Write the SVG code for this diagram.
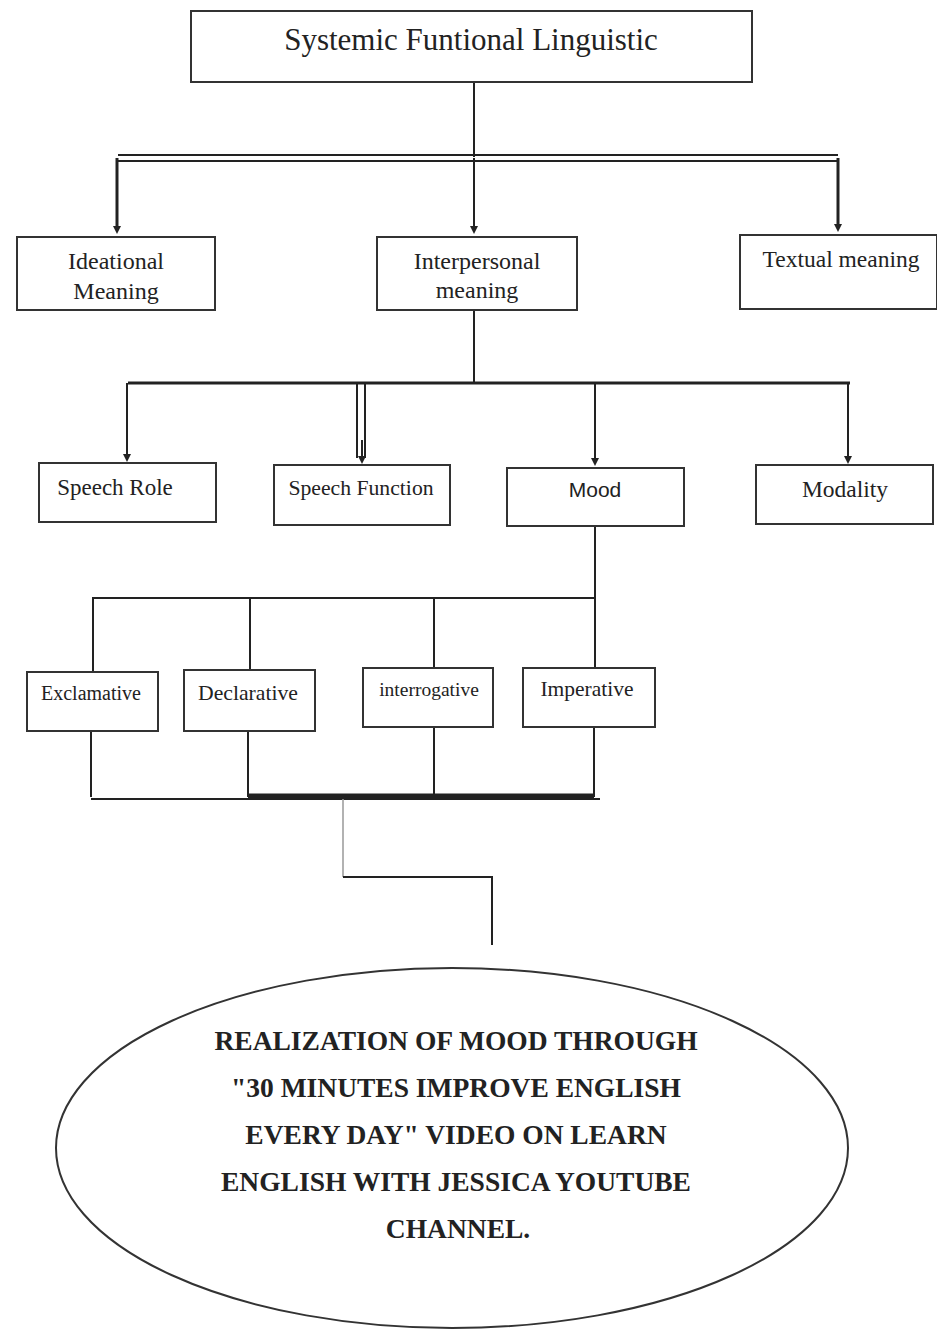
<svg xmlns="http://www.w3.org/2000/svg" width="937" height="1330" viewBox="0 0 937 1330">
<style>
.box{fill:#fff;stroke:#333;stroke-width:2}
.t{font-family:"Liberation Serif",serif;fill:#222;text-anchor:middle}
.c{stroke:#222;stroke-width:2;fill:none}
.ct{stroke:#222;stroke-width:3;fill:none}
.b{font-family:"Liberation Serif",serif;font-weight:bold;fill:#222;text-anchor:middle;font-size:27.5px}
</style>
<defs>
<marker id="ah" markerWidth="8" markerHeight="8" refX="4" refY="4" orient="auto" markerUnits="userSpaceOnUse"><path d="M0,0 L8,4 L0,8 z" fill="#222"/></marker>
</defs>
<rect width="937" height="1330" fill="#fff"/>
<g id="connectors">
<line class="c" x1="474" y1="82" x2="474" y2="157"/>
<line class="c" x1="118" y1="155" x2="838" y2="155"/>
<line class="c" x1="118" y1="161" x2="838" y2="161"/>
<line class="ct" x1="117" y1="158" x2="117" y2="230" marker-end="url(#ah)"/>
<line class="c" x1="474" y1="158" x2="474" y2="230" marker-end="url(#ah)"/>
<line class="ct" x1="838" y1="158" x2="838" y2="228" marker-end="url(#ah)"/>
<line class="c" x1="474" y1="310" x2="474" y2="383"/>
<line class="ct" x1="128" y1="383" x2="850" y2="383"/>
<line class="c" x1="127" y1="383" x2="127" y2="458" marker-end="url(#ah)"/>
<line class="c" x1="357" y1="383" x2="357" y2="458"/>
<line class="c" x1="365" y1="383" x2="365" y2="458"/>
<line class="c" x1="362" y1="440" x2="362" y2="460" marker-end="url(#ah)"/>
<line class="c" x1="595" y1="383" x2="595" y2="462" marker-end="url(#ah)"/>
<line class="c" x1="848" y1="383" x2="848" y2="460" marker-end="url(#ah)"/>
<path class="c" d="M595,526 V598 H93 V672"/>
<line class="c" x1="250" y1="598" x2="250" y2="670"/>
<line class="c" x1="434" y1="598" x2="434" y2="668"/>
<line class="c" x1="595" y1="598" x2="595" y2="668"/>
<line class="c" x1="91" y1="731" x2="91" y2="797"/>
<line class="c" x1="248" y1="731" x2="248" y2="797"/>
<line class="c" x1="434" y1="727" x2="434" y2="797"/>
<line class="c" x1="594" y1="727" x2="594" y2="797"/>
<line class="c" x1="91" y1="799" x2="600" y2="799"/>
<line stroke="#222" stroke-width="5" x1="248" y1="796" x2="594" y2="796"/>
<line stroke="#999" stroke-width="1.5" x1="343" y1="799" x2="343" y2="877"/>
<path class="c" d="M343,877 H492 V945"/>
</g>
<g id="n-sfl"><rect class="box" x="191" y="11" width="561" height="71"/><text class="t" x="471" y="50" font-size="31">Systemic Funtional Linguistic</text></g>
<g id="n-ideational"><rect class="box" x="17" y="237" width="198" height="73"/><text class="t" x="116" y="269" font-size="24">Ideational</text><text class="t" x="116" y="299" font-size="24">Meaning</text></g>
<g id="n-interpersonal"><rect class="box" x="377" y="237" width="200" height="73"/><text class="t" x="477" y="269" font-size="24">Interpersonal</text><text class="t" x="477" y="298" font-size="24">meaning</text></g>
<g id="n-textual"><rect class="box" x="740" y="235" width="197" height="74"/><text class="t" x="841" y="267" font-size="23.5">Textual meaning</text></g>
<g id="n-speechrole"><rect class="box" x="39" y="463" width="177" height="59"/><text class="t" x="115" y="495" font-size="23">Speech Role</text></g>
<g id="n-speechfunction"><rect class="box" x="274" y="465" width="176" height="60"/><text class="t" x="361" y="495" font-size="21.7">Speech Function</text></g>
<g id="n-mood"><rect class="box" x="507" y="468" width="177" height="58"/><text x="595" y="497" font-size="21" font-family="Liberation Sans,sans-serif" fill="#222" text-anchor="middle">Mood</text></g>
<g id="n-modality"><rect class="box" x="756" y="465" width="177" height="59"/><text class="t" x="845" y="497" font-size="23.5">Modality</text></g>
<g id="n-exclamative"><rect class="box" x="27" y="672" width="131" height="59"/><text class="t" x="91" y="700" font-size="20">Exclamative</text></g>
<g id="n-declarative"><rect class="box" x="184" y="670" width="131" height="61"/><text class="t" x="248" y="700" font-size="21.7">Declarative</text></g>
<g id="n-interrogative"><rect class="box" x="363" y="668" width="130" height="59"/><text class="t" x="429" y="696" font-size="19.5">interrogative</text></g>
<g id="n-imperative"><rect class="box" x="523" y="668" width="132" height="59"/><text class="t" x="587" y="696" font-size="21.5">Imperative</text></g>
<g id="n-realization"><ellipse cx="452" cy="1148" rx="396" ry="180" fill="#fff" stroke="#333" stroke-width="2"/>
<text class="b" x="456" y="1050">REALIZATION OF MOOD THROUGH</text>
<text class="b" x="456" y="1097">"30 MINUTES IMPROVE ENGLISH</text>
<text class="b" x="456" y="1144">EVERY DAY" VIDEO ON LEARN</text>
<text class="b" x="456" y="1191">ENGLISH WITH JESSICA YOUTUBE</text>
<text class="b" x="458" y="1238">CHANNEL.</text></g>
</svg>
